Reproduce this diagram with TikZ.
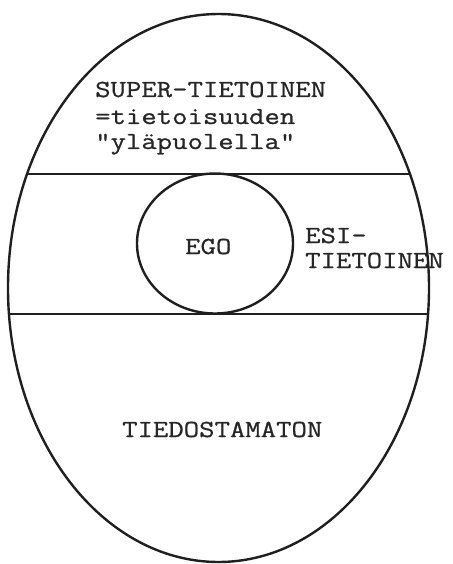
\documentclass[tikz,border=0pt]{standalone}
\usepackage{fontspec}
\setmonofont{Latin Modern Mono}[FakeStretch=1.22,FakeBold=0.8]
\begin{document}
\begin{tikzpicture}[x=1pt,y=-1pt,
  shape line/.style={line width=2.4pt,draw=black!88},
  label text/.style={anchor=base west,inner sep=0pt,font=\fontsize{24.5}{26}\selectfont\ttfamily,text=black!85}]
\useasboundingbox (0,0) rectangle (452,564);
% outer ellipse
\draw[shape line] (218.5,288) ellipse [x radius=210.5,y radius=274];
% horizontal division lines, clipped to the ellipse
\begin{scope}
  \clip (218.5,288) ellipse [x radius=210.5,y radius=274];
  \draw[shape line] (0,174) -- (452,174);
  \draw[shape line] (0,314) -- (452,314);
\end{scope}
% ego circle
\draw[shape line] (215,243.5) ellipse [x radius=78,y radius=70];
% texts
\node[label text] (s1) at (95,97) {SUPER-TIETOINEN};
\node[label text] (s2) at (95,124) {=tietoisuuden};
\node[label text] (s3) at (95,149) {”yläpuolella”};
\node[label text] (ego) at (185,254) {EGO};
\node[label text] (esi1) at (305,243) {ESI-};
\node[label text] (esi2) at (305,268) {TIETOINEN};
\node[label text] (tied) at (122,437) {TIEDOSTAMATON};
\end{tikzpicture}
\end{document}
